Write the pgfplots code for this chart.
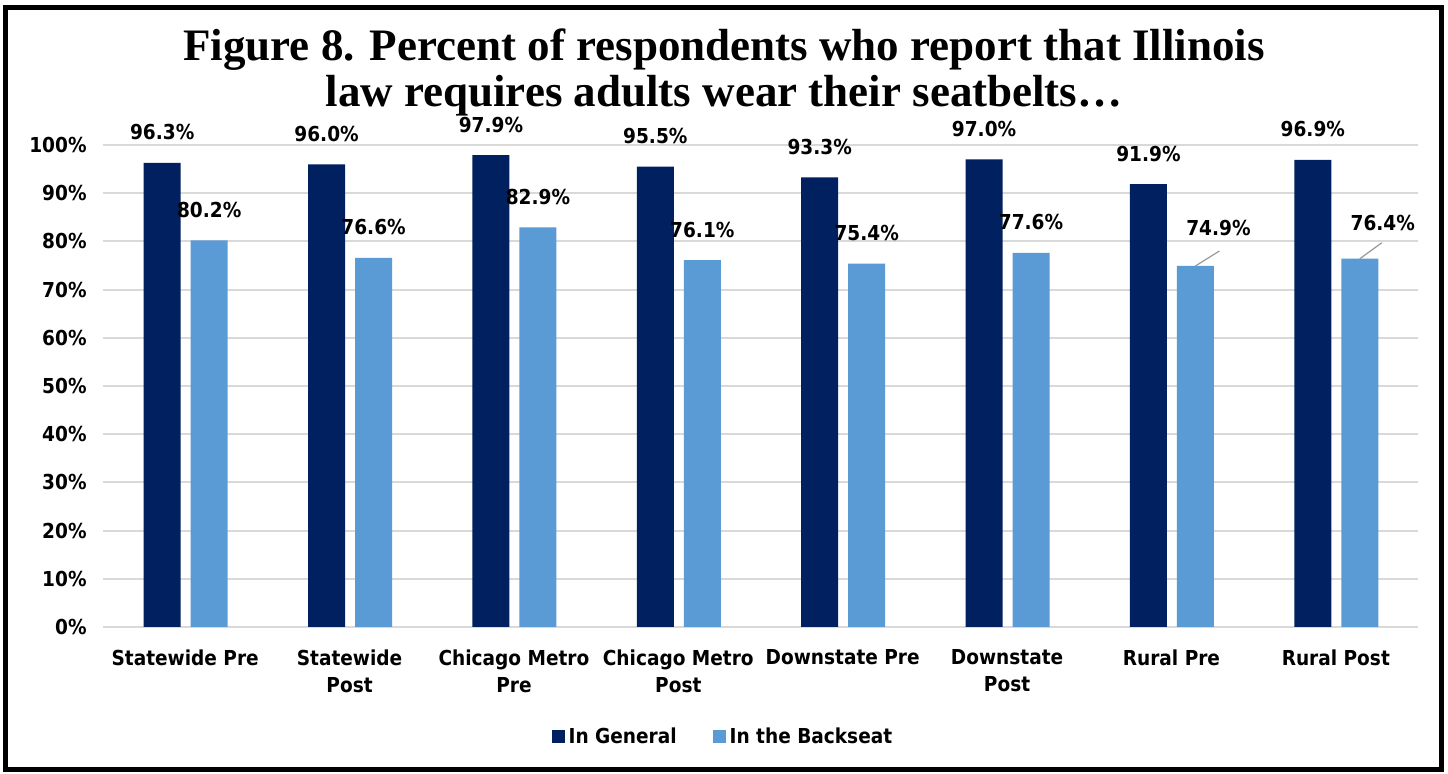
\documentclass[border=0pt]{standalone}
\usepackage{pgfplots}
\pgfplotsset{compat=1.18}
\usepackage{fontspec}
\setmainfont{DejaVu Sans}
\newfontfamily\lab{DejaVuSansCondensed-Bold.ttf}
\newfontfamily\ttl{Liberation Serif}[BoldFont={Liberation Serif Bold}]
\definecolor{navy}{HTML}{002060}
\definecolor{sky}{HTML}{5B9BD5}
\definecolor{gridgray}{HTML}{D9D9D9}

\pgfplotstableread{
x  y    dx  dy
0  80.2 0   0
1  76.6 0   0
2  82.9 0   0
3  76.1 0   0
4  75.4 0   0
5  77.6 0   0
6  74.9 11.5 3.5
7  76.4 11.5 2.5
}\backseat

\begin{document}
\begin{tikzpicture}
\path[use as bounding box] (0,0) rectangle (724pt,387pt);
\fill[white] (0,0) rectangle (724pt,387pt);
\draw[line width=2.5pt] (2.75pt,2.25pt) rectangle (720.5pt,383.25pt);

\node[anchor=base,font=\ttl\bfseries\fontsize{22.5}{26}\selectfont] at (362pt,356.5pt)
  {Figure 8. Percent of respondents who report that Illinois};
\node[anchor=base,font=\ttl\bfseries\fontsize{22.5}{26}\selectfont] at (362pt,333.5pt)
  {law requires adults wear their seatbelts…};

\begin{axis}[
    at={(51.5pt,73.5pt)}, anchor=south west,
    width=657.5pt, height=241pt, scale only axis,
    xmin=-0.5, xmax=7.5, ymin=0, ymax=100,
    ybar, bar width=18.5pt,
    axis line style={draw=none},
    major tick length=0pt,
    xmajorgrids=false, ymajorgrids=true,
    grid style={draw=gridgray, line width=1pt},
    ytick={0,10,...,100},
    yticklabel={\pgfmathprintnumber{\tick}\%},
    yticklabel style={anchor=east, inner sep=0pt, xshift=-8pt},
    xtick={0,...,7},
    xticklabels={Statewide Pre, Statewide\\Post, Chicago Metro\\Pre, Chicago Metro\\Post,
                 Downstate Pre, Downstate\\Post, Rural Pre, Rural Post},
    xticklabel style={align=center, anchor=north, inner sep=0pt, yshift=-11pt},
    /pgf/number format/assume math mode=true,
    font=\lab\fontsize{10.3}{13.5}\selectfont,
    ticklabel style={font=\lab\fontsize{10.3}{13.5}\selectfont},
    nodes near coords={\pgfmathprintnumber[fixed,fixed zerofill,precision=1]{\pgfplotspointmeta}\%},
    nodes near coords style={font=\lab\fontsize{10.3}{13.5}\selectfont, anchor=base, inner sep=0pt, yshift=11.5pt},
    legend style={at={(0.4722,-0.228)}, anchor=center, draw=none, fill=none,
                  legend columns=2, font=\lab\fontsize{10.3}{13.5}\selectfont,
                  /tikz/every even column/.append style={column sep=16pt}},
    legend image code/.code={\fill[#1] (0pt,-3.25pt) rectangle (6.5pt,3.25pt);},
]
\addplot[fill=navy, draw=none, bar shift=-11.5pt] coordinates {
    (0,96.3) (1,96.0) (2,97.9) (3,95.5) (4,93.3) (5,97.0) (6,91.9) (7,96.9)
};
\addlegendentry{In General}
\addplot[fill=sky, draw=none, bar shift=12pt,
    visualization depends on={\thisrow{dx}\as\dx},
    visualization depends on={\thisrow{dy}\as\dy},
    nodes near coords style={xshift=\dx pt, yshift=\dy pt}]
    table[x=x, y=y] {\backseat};
\addlegendentry{In the Backseat}
\draw[gray!80, line width=0.6pt] ([xshift=12pt]axis cs:6,74.9) -- ([xshift=24pt,yshift=7.5pt]axis cs:6,74.9);
\draw[gray!80, line width=0.6pt] ([xshift=12pt]axis cs:7,76.4) -- ([xshift=23pt,yshift=8pt]axis cs:7,76.4);
\end{axis}
\end{tikzpicture}
\end{document}
